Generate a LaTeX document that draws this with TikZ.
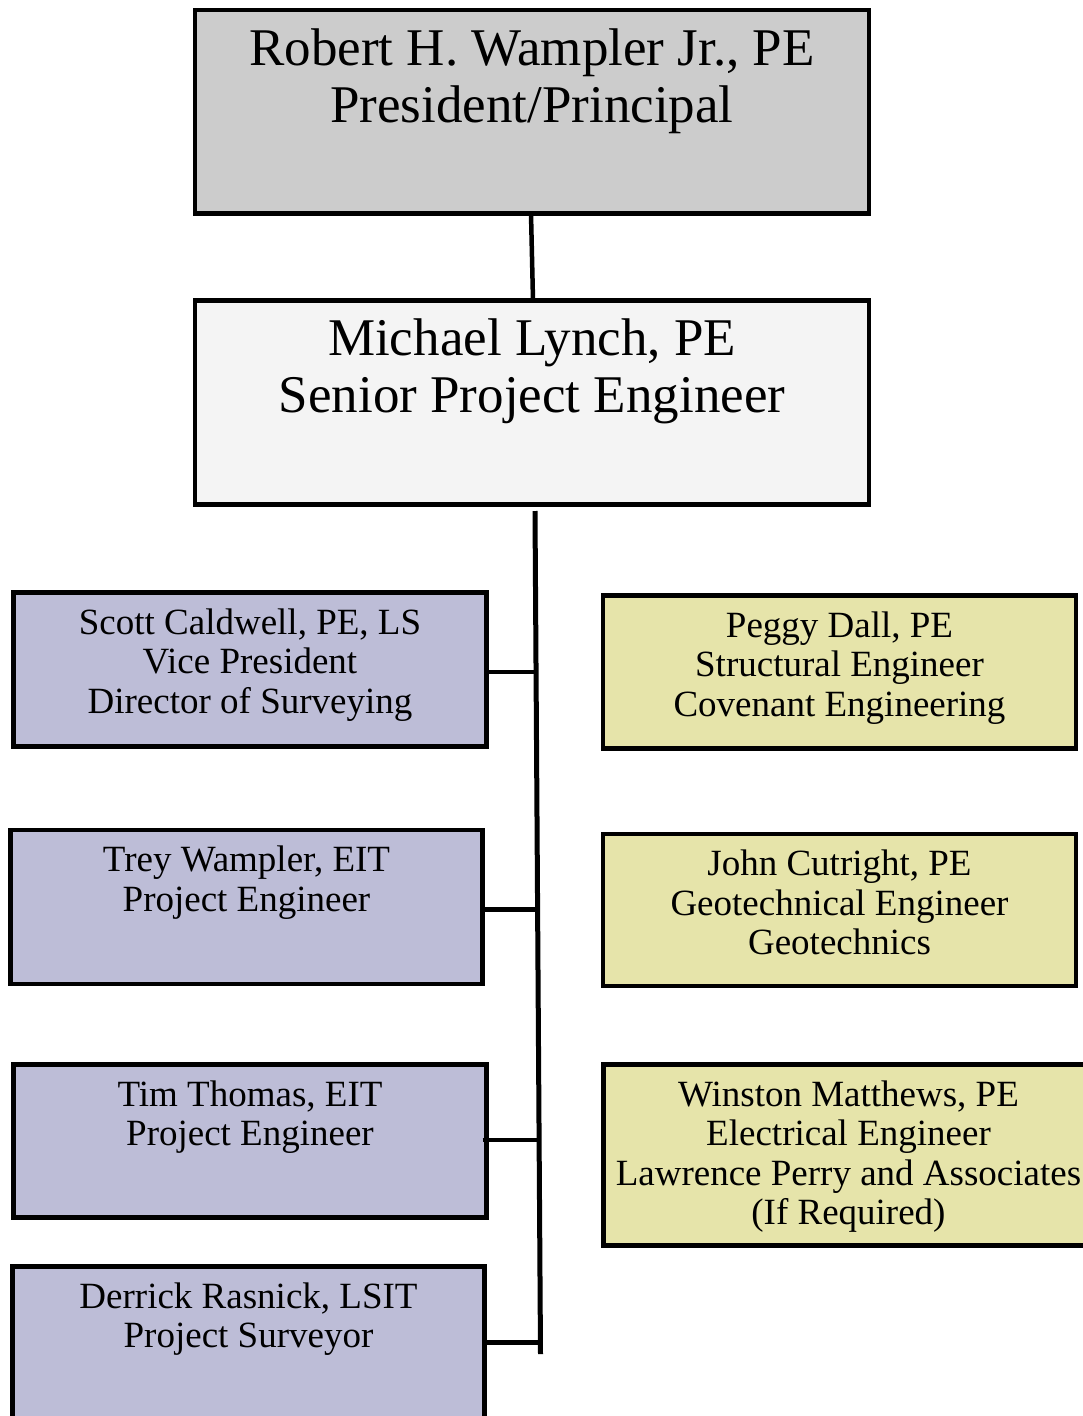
\documentclass[tikz,border=0pt]{standalone}
\usepackage{fontspec}
\setmainfont{Liberation Serif}
\definecolor{topfill}{HTML}{CCCCCC}
\definecolor{midfill}{HTML}{F4F4F4}
\definecolor{leftfill}{HTML}{BDBDD7}
\definecolor{rightfill}{HTML}{E6E4AA}
\newcommand\bigtxt[3]{\parbox[c][#2pt][t]{#1pt}{\centering\fontsize{53}{57}\selectfont\rule{0pt}{55pt}#3\par}}
\newcommand\smalltxt[3]{\parbox[c][#2pt][t]{#1pt}{\centering\fontsize{37}{39.5}\selectfont\rule{0pt}{41.5pt}#3\par}}
\tikzset{
  orgbox/.style={draw=black, line width=4.5pt, inner sep=0pt, outer sep=0pt, anchor=north west},
  link/.style={draw=black, line width=4.5pt},
}
\begin{document}
\begin{tikzpicture}[x=1pt,y=-1pt]
\useasboundingbox (0,0) rectangle (1083,1416);
\clip (0,0) rectangle (1083,1416);
\node[orgbox, fill=topfill] (top) at (195,10) {\bigtxt{674}{203.5}{Robert H. Wampler Jr., PE\\President/Principal}};
\node[orgbox, fill=midfill] (mid) at (195,300.5) {\bigtxt{674}{204}{Michael Lynch, PE\\Senior Project Engineer}};
\node[orgbox, fill=leftfill] (scott) at (13.5,592.5) {\smalltxt{473}{154}{Scott Caldwell, PE, LS\\Vice President\\Director of Surveying}};
\node[orgbox, fill=leftfill] (trey) at (10.5,830) {\smalltxt{472}{154}{Trey Wampler, EIT\\Project Engineer}};
\node[orgbox, fill=leftfill] (tim) at (13.5,1064.5) {\smalltxt{473}{153}{Tim Thomas, EIT\\Project Engineer}};
\node[orgbox, fill=leftfill] (derrick) at (12.5,1266.5) {\smalltxt{472}{154}{Derrick Rasnick, LSIT\\Project Surveyor}};
\node[orgbox, fill=rightfill] (peggy) at (603,595.5) {\smalltxt{473}{153}{Peggy Dall, PE\\Structural Engineer\\Covenant Engineering}};
\node[orgbox, fill=rightfill] (john) at (603,834) {\smalltxt{473}{152}{John Cutright, PE\\Geotechnical Engineer\\Geotechnics}};
\node[orgbox, fill=rightfill] (winston) at (603.5,1064.5) {\smalltxt{490}{181}{Winston Matthews, PE\\Electrical Engineer\\Lawrence Perry and Associates\\(If Required)}};
% connectors
\draw[link] ([xshift=-1pt]top.south) -- ([xshift=1pt]mid.north);
\coordinate (tA) at (535,511);
\coordinate (tB) at (540.5,1354);
\draw[link, line width=5pt] (tA) -- (tB);
\path (tA) -- (tB)
  coordinate[pos=0.191] (j1)
  coordinate[pos=0.4727] (j2)
  coordinate[pos=0.7461] (j3)
  coordinate[pos=0.9864] (j4);
\draw[link] (scott.east |- j1) -- (j1);
\draw[link] (trey.east |- j2) -- (j2);
\draw[link] ([xshift=-4pt]tim.east |- j3) -- (j3);
\draw[link] (derrick.east |- j4) -- (j4);
\end{tikzpicture}
\end{document}
